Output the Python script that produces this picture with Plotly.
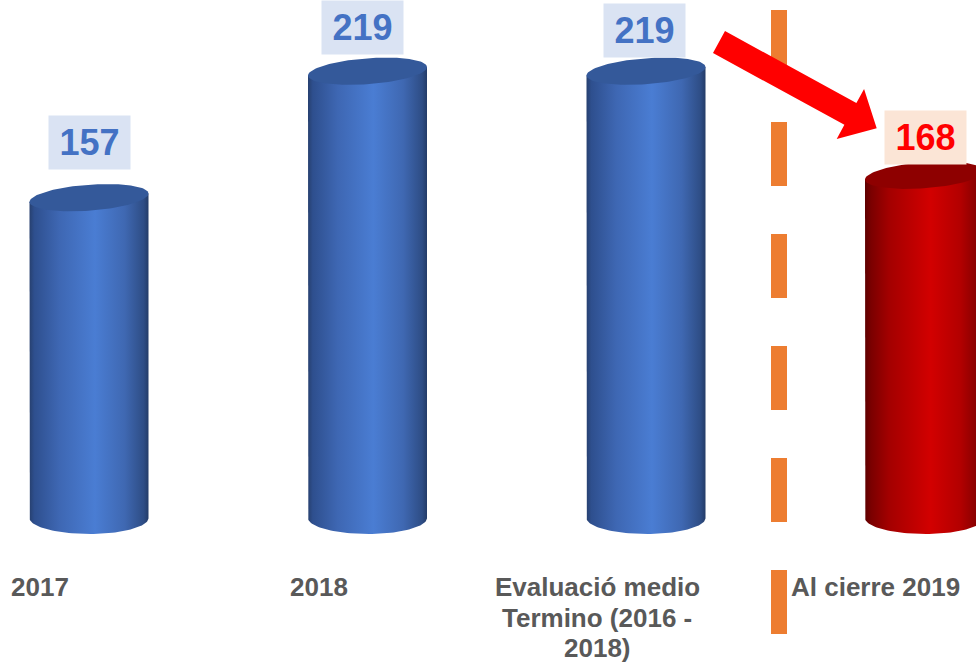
import numpy as np
import plotly.graph_objects as go

# ---- data ----
categories = ["2017", "2018", "Evaluació medio<br>Termino (2016 -<br>2018)", "Al cierre 2019"]
values = [157, 219, 219, 168]
value_labels = ["157", "219", "219", "168"]

# ---- styles / layout constants ----
W, H = 976, 663
CX0_PX, STEP_PX = 89.0, 278.5      # pixel centre of first bar, spacing
BASE_PX, PX_PER_UNIT = 518.0, 2.04  # pixel of value 0, px per unit
HALF_W_PX = 59.5
TOP_B_PX, BOT_B_PX = 13.0, 16.0
SHEAR = 0.07
LINE_PX = 30.5

blue_scale = [[0, "#27406F"], [0.04, "#2E4F8E"], [0.25, "#3E67B3"], [0.55, "#4A7DD3"],
              [0.8, "#3F68B2"], [0.96, "#2E4D85"], [1, "#243C68"]]
red_scale = [[0, "#5E0000"], [0.05, "#7A0000"], [0.2, "#A30000"], [0.55, "#D20000"],
             [0.8, "#B30000"], [0.95, "#850000"], [1, "#6A0000"]]
bar_scales = [blue_scale, blue_scale, blue_scale, red_scale]
top_colors = ["#34599A", "#34599A", "#34599A", "#8E0000"]
label_fg = ["#4472C4", "#4472C4", "#4472C4", "#FF0000"]
label_bg = ["#DAE3F3", "#DAE3F3", "#DAE3F3", "#FBE5D6"]
label_offsets = [(0, 28), (-5, 16), (-2, 13), (1, 10)]  # px (xshift, yshift)
cat_xshift = -49
FONT = "Arial, Liberation Sans, sans-serif"

xr = [-CX0_PX / STEP_PX, (W - CX0_PX) / STEP_PX]
yr = [-(H - BASE_PX) / PX_PER_UNIT, BASE_PX / PX_PER_UNIT]

hw = HALF_W_PX / STEP_PX
tb = TOP_B_PX / PX_PER_UNIT
bb = BOT_B_PX / PX_PER_UNIT
tilt = SHEAR * HALF_W_PX / PX_PER_UNIT

fig = go.Figure()
for i, v in enumerate(values):
    cx = i
    t = np.linspace(np.pi, 2 * np.pi, 60)
    xs = [cx - hw, cx - hw] + list(cx + hw * np.cos(t)) + [cx + hw, cx + hw, cx - hw]
    ys = [v - tilt, 0] + list(bb * np.sin(t)) + [0, v + tilt, v - tilt]
    fig.add_trace(go.Scatter(
        x=xs, y=ys, mode="lines", fill="toself", line=dict(width=0, color="rgba(0,0,0,0)"),
        fillgradient=dict(type="horizontal", colorscale=bar_scales[i]),
        hoverinfo="skip", showlegend=False))
    tt = np.linspace(0, 2 * np.pi, 120)
    ex = cx + hw * np.cos(tt)
    ey = v + tb * np.sin(tt) + tilt * np.cos(tt)
    fig.add_trace(go.Scatter(
        x=ex, y=ey, mode="lines", fill="toself", fillcolor=top_colors[i],
        line=dict(width=0, color=top_colors[i]), hoverinfo="skip", showlegend=False))

annotations = []
for i, v in enumerate(values):
    dx, dy = label_offsets[i]
    annotations.append(dict(
        x=i, y=v, xref="x", yref="y", xanchor="center", yanchor="bottom",
        xshift=dx, yshift=dy, text=value_labels[i], showarrow=False,
        width=79, height=51, bgcolor=label_bg[i], valign="middle",
        font=dict(family=FONT, size=36, color=label_fg[i], weight="bold")))
for i, c in enumerate(categories):
    for k, line in enumerate(c.split("<br>")):
        annotations.append(dict(
            x=i, y=1 - 570 / H, xref="x", yref="paper", xanchor="center", yanchor="top",
            xshift=cat_xshift, yshift=-LINE_PX * k, text=line, showarrow=False,
            align="center",
            font=dict(family=FONT, size=26, color="#595959", weight="bold")))

# dashed separator
shapes = [dict(type="line", xref="paper", yref="paper",
               x0=779 / W, x1=779 / W, y0=1 - 10 / H, y1=1 - 634 / H,
               line=dict(color="#ED7D31", width=16, dash="64px,48px"), layer="above")]

# red arrow (pixel geometry)
tail = np.array([719.0, 42.0])
tip = np.array([876.7, 128.3])
u = (tip - tail) / np.linalg.norm(tip - tail)
n = np.array([-u[1], u[0]])
base = tip - 30 * u
pts = [tail + 12.5 * n, tail - 12.5 * n, base - 12.5 * n, base - 28.5 * n, tip,
       base + 28.5 * n, base + 12.5 * n]
path = "M " + " L ".join(f"{p[0] / W:.5f},{1 - p[1] / H:.5f}" for p in pts) + " Z"
shapes.append(dict(type="path", xref="paper", yref="paper", path=path,
                   fillcolor="#FF0000", line=dict(width=0), layer="above"))

fig.update_layout(
    width=W, height=H, margin=dict(l=0, r=0, t=0, b=0),
    paper_bgcolor="white", plot_bgcolor="white",
    xaxis=dict(range=xr, visible=False, fixedrange=True),
    yaxis=dict(range=yr, visible=False, fixedrange=True),
    annotations=annotations, shapes=shapes, showlegend=False)

fig.write_html("out.html", config={"displayModeBar": False},
               post_script="document.body.style.margin='0';document.body.style.overflow='hidden';")
